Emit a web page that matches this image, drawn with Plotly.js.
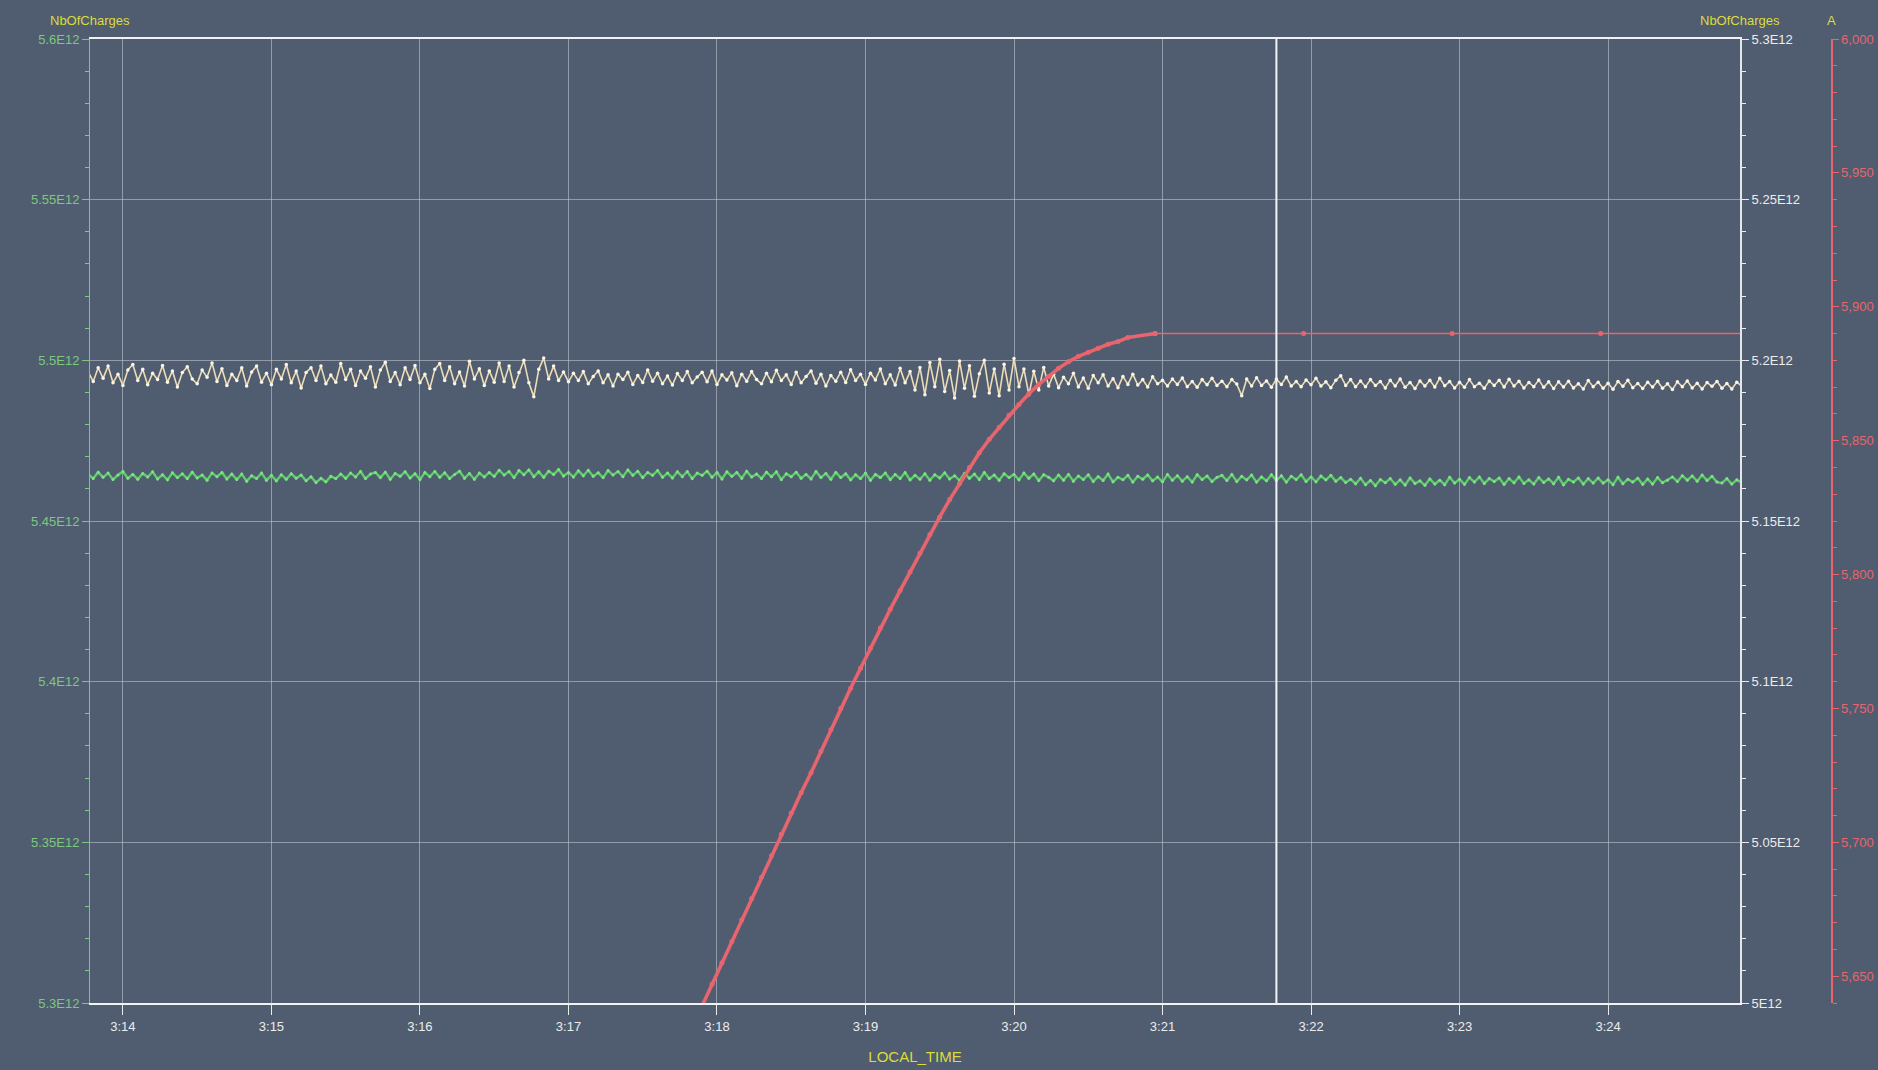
<!DOCTYPE html>
<html><head><meta charset="utf-8">
<script src="https://cdn.plot.ly/plotly-3.0.1.min.js"></script>
<style>html,body{margin:0;padding:0;background:#505d70;}#chart{width:1878px;height:1070px;}</style>
</head><body><div id="chart"></div>
<script>
// ---------- DATA ----------
const DAY = '2024-01-01';
const sampleStart = [3, 13, 46];      // h, m, s of first logged sample
const sampleStepSec = 2;              // logger sampling interval

// NbOfCharges (right axis, in units of 1E12)
const creamE12 = [
5.1964,5.1934,5.1977,5.1944,5.1982,5.1930,5.1957,5.1922,5.1970,5.1987,
5.1937,5.1972,5.1924,5.1960,5.1940,5.1984,5.1932,5.1967,5.1917,5.1962,
5.1980,5.1942,5.1927,5.1970,5.1947,5.1992,5.1934,5.1974,5.1922,5.1957,
5.1937,5.1977,5.1920,5.1964,5.1982,5.1932,5.1960,5.1924,5.1972,5.1942,
5.1987,5.1930,5.1967,5.1914,5.1962,5.1977,5.1937,5.1982,5.1927,5.1954,
5.1932,5.1990,5.1940,5.1972,5.1922,5.1967,5.1944,5.1980,5.1917,5.1970,
5.1994,5.1934,5.1962,5.1924,5.1977,5.1940,5.1984,5.1930,5.1957,5.1912,
5.1972,5.1990,5.1937,5.1980,5.1927,5.1964,5.1920,5.1997,5.1942,5.1974,
5.1922,5.1967,5.1932,5.1992,5.1934,5.1982,5.1917,5.1962,5.2000,5.1930,
5.1887,5.1972,5.2007,5.1942,5.1982,5.1937,5.1964,
5.1933,5.1960,5.1937,5.1965,5.1927,5.1950,5.1967,5.1930,5.1955,5.1920,
5.1957,5.1940,5.1963,5.1925,5.1953,5.1931,5.1970,5.1935,5.1960,5.1927,
5.1951,5.1923,5.1959,5.1937,5.1965,5.1930,5.1948,5.1963,5.1933,5.1967,
5.1925,5.1955,5.1939,5.1961,5.1921,5.1957,5.1935,5.1965,5.1940,5.1927,
5.1960,5.1933,5.1969,5.1937,5.1955,5.1925,5.1963,5.1930,5.1950,5.1967,
5.1929,5.1957,5.1920,5.1953,5.1935,5.1963,5.1931,5.1971,5.1937,5.1957,
5.1925,5.1960,5.1939,5.1973,5.1927,5.1955,5.1923,5.1975,5.1930,5.1965,
5.1908,5.1978,5.1893,5.1993,5.1918,5.2003,5.1903,5.1968,5.1883,5.1998,
5.1913,5.1983,5.1888,5.1958,5.2000,5.1898,5.1973,5.1890,5.1988,5.1908,
5.2006,5.1918,5.1973,5.1893,5.1966,5.1908,5.1978,
5.1920,5.1957,5.1915,5.1947,5.1927,5.1960,5.1917,5.1945,5.1913,5.1953,
5.1930,5.1955,5.1920,5.1943,5.1915,5.1950,5.1925,5.1957,5.1923,5.1940,
5.1917,5.1949,5.1927,
5.1938,5.1920,5.1942,5.1925,5.1945,5.1918,5.1934,5.1916,5.1940,5.1924,
5.1944,5.1922,5.1935,5.1918,5.1940,5.1926,5.1890,5.1942,5.1920,5.1946,
5.1922,5.1936,5.1916,5.1942,5.1925,5.1948,5.1920,5.1934,5.1918,5.1939,
5.1924,5.1944,5.1920,5.1933,5.1915,5.1938,5.1952,5.1922,5.1940,5.1918,
5.1936,5.1918,5.1940,5.1922,5.1934,5.1914,5.1938,5.1920,5.1942,5.1916,
5.1931,5.1912,5.1936,5.1920,5.1938,5.1917,5.1944,5.1921,5.1934,5.1914,
5.1932,5.1916,5.1940,5.1918,5.1929,5.1913,5.1936,5.1922,5.1938,5.1917,
5.1941,5.1920,5.1935,5.1914,5.1931,5.1918,5.1939,5.1916,5.1933,5.1912,
5.1933,5.1917,5.1935,5.1914,5.1927,5.1911,5.1937,5.1918,5.1932,5.1913,
5.1929,5.1910,5.1934,5.1919,5.1938,5.1915,5.1928,5.1912,5.1932,5.1917,
5.1935,5.1913,5.1927,5.1909,5.1933,5.1918,5.1936,5.1914,5.1929,5.1911,
5.1931,5.1919,5.1934,5.1913,5.1928,5.1911,5.1932,5.1920
];

// NbOfCharges (left axis, in units of 1E12)
const greenE12 = [
5.4646,5.4632,5.4652,5.4636,5.4649,5.4629,5.4643,5.4654,5.4633,5.4645,
5.4630,5.4648,5.4637,5.4653,5.4631,5.4644,5.4628,5.4650,5.4635,5.4647,
5.4632,5.4652,5.4634,5.4643,5.4627,5.4649,5.4638,5.4651,5.4631,5.4646,
5.4629,5.4646,5.4624,5.4641,5.4632,5.4649,5.4627,5.4642,5.4625,5.4644,
5.4630,5.4647,5.4633,5.4643,5.4625,5.4638,5.4620,5.4633,5.4622,5.4639,
5.4632,5.4646,5.4633,5.4649,5.4637,5.4654,5.4632,5.4646,5.4651,5.4635,
5.4652,5.4630,5.4648,5.4639,5.4653,5.4634,5.4647,5.4629,5.4651,5.4638,
5.4654,5.4636,5.4650,5.4632,5.4645,5.4655,5.4633,5.4648,5.4630,5.4649,
5.4637,5.4651,5.4639,5.4658,5.4643,5.4654,5.4635,5.4657,5.4644,5.4659,
5.4638,5.4653,5.4636,5.4655,5.4645,5.4660,5.4640,5.4651,5.4637,5.4656,
5.4641,5.4658,5.4639,5.4650,5.4635,5.4657,5.4643,5.4654,5.4638,5.4659,
5.4642,5.4655,5.4635,5.4651,5.4642,5.4657,5.4636,5.4649,5.4634,5.4653,
5.4638,5.4654,5.4632,5.4649,5.4642,5.4655,5.4636,5.4651,5.4631,5.4653,
5.4639,5.4651,5.4633,5.4655,5.4637,5.4646,5.4632,5.4652,5.4638,5.4653,
5.4629,5.4647,5.4638,5.4652,5.4633,5.4645,5.4631,5.4654,5.4635,5.4648,
5.4630,5.4651,5.4635,5.4647,5.4628,5.4644,5.4632,5.4649,5.4627,5.4645,
5.4635,5.4649,5.4629,5.4645,5.4632,5.4651,5.4628,5.4642,5.4630,5.4647,
5.4627,5.4644,5.4634,5.4650,5.4631,5.4641,5.4626,5.4648,5.4633,5.4646,
5.4629,5.4651,5.4632,5.4643,5.4627,5.4647,5.4635,5.4645,5.4628,5.4649,
5.4633,5.4646,5.4626,5.4644,5.4636,5.4625,5.4643,5.4627,5.4645,5.4624,
5.4640,5.4629,5.4644,5.4623,5.4638,5.4626,5.4646,5.4622,5.4636,5.4628,
5.4642,5.4621,5.4639,5.4630,5.4643,5.4625,5.4637,5.4622,5.4645,5.4627,
5.4641,5.4624,5.4638,5.4621,5.4644,5.4629,5.4640,5.4623,5.4636,5.4642,
5.4626,5.4645,5.4623,5.4639,5.4628,5.4643,5.4621,5.4637,5.4625,5.4644,
5.4626,5.4641,5.4621,5.4639,5.4629,5.4644,5.4623,5.4637,5.4622,5.4640,
5.4628,5.4642,5.4624,5.4635,5.4620,
5.4630,5.4616,5.4633,5.4613,5.4626,5.4610,5.4629,5.4619,5.4632,5.4614,
5.4628,5.4612,5.4634,5.4617,5.4625,5.4611,5.4631,5.4615,5.4627,5.4613,
5.4636,5.4618,5.4630,5.4614,5.4635,5.4621,5.4637,5.4617,5.4632,5.4623,
5.4634,5.4614,5.4632,5.4619,5.4637,5.4617,5.4628,5.4615,5.4635,5.4620,
5.4631,5.4616,5.4636,5.4613,5.4630,5.4621,5.4634,5.4615,5.4632,5.4618,
5.4634,5.4618,5.4628,5.4613,5.4636,5.4616,5.4630,5.4621,5.4633,5.4614,
5.4631,5.4615,5.4635,5.4619,5.4627,
5.4637,5.4623,5.4641,5.4627,5.4640,5.4624,5.4643,5.4626,5.4639,5.4621,
5.4618,5.4632,5.4615,5.4628,5.4620
];

// Current "A" (red axis)
const redTimes = [
'03:17:50','03:17:54','03:17:58','03:18:02','03:18:06','03:18:10','03:18:14','03:18:18','03:18:22','03:18:26',
'03:18:30','03:18:34','03:18:38','03:18:42','03:18:46','03:18:50','03:18:54','03:18:58','03:19:02','03:19:06',
'03:19:10','03:19:14','03:19:18','03:19:22','03:19:26','03:19:30','03:19:34','03:19:38','03:19:42','03:19:46',
'03:19:50','03:19:54','03:19:58','03:20:02','03:20:06','03:20:10','03:20:14','03:20:18','03:20:22','03:20:26',
'03:20:30','03:20:34','03:20:38','03:20:42','03:20:46','03:20:57','03:21:57','03:22:57','03:23:57','03:24:57'
];
const redAmps = [
5631,5639,5647,5655,5663,5671,5679,5687,5695,5703,
5711,5718.5,5726,5734,5742,5750,5757.5,5765,5772.5,5780,
5787,5794,5801,5808,5815,5821.5,5828,5834,5840,5845.5,
5850.5,5855,5859.5,5863.5,5867.5,5871,5874,5877,5879.5,5881.5,
5883,5884.5,5886,5887,5888.5,5890,5890,5890,5890,5890
];
const redPlateauStart = '03:20:57';   // ramp ends, set-point reached

const leftTickVals  = [5.3, 5.35, 5.4, 5.45, 5.5, 5.55, 5.6];
const leftTickText  = ['5.3E12','5.35E12','5.4E12','5.45E12','5.5E12','5.55E12','5.6E12'];
const rightTickVals = [5.0, 5.05, 5.1, 5.15, 5.2, 5.25, 5.3];
const rightTickText = ['5E12','5.05E12','5.1E12','5.15E12','5.2E12','5.25E12','5.3E12'];
const cursorTime = '03:21:46';
const xRange = ['03:13:46.7', '03:24:53.3'];

// ---------- STYLE ----------
const BG = '#505d70';
const GRID = 'rgba(200,206,215,0.55)';
const WHITE = '#ececec';
const GREEN_AX = '#7cc87c';
const RED = '#e8646e';
const YELLOW = '#dcdc3a';
const FONT = '"Liberation Sans Narrow", "Liberation Sans", Arial, sans-serif';
const FS = 13;

const dt = hms => DAY + ' ' + hms;
const t0 = Date.UTC(2024, 0, 1, sampleStart[0], sampleStart[1], sampleStart[2]);
const sampleX = n => Array.from({length: n}, (_, i) => t0 + i * sampleStepSec * 1000);

const split = redTimes.indexOf(redPlateauStart);
const redX = redTimes.map(dt);

const traces = [
  {x: sampleX(greenE12.length), y: greenE12, yaxis: 'y', type: 'scatter', mode: 'lines+markers',
   line: {color: '#5fcd6a', width: 2.4}, marker: {color: '#82e08c', size: 3}, hoverinfo: 'skip'},
  {x: sampleX(creamE12.length), y: creamE12, yaxis: 'y2', type: 'scatter', mode: 'lines+markers',
   line: {color: '#ecdcb8', width: 1.6}, marker: {color: '#fbf6ea', size: 3.5}, hoverinfo: 'skip'},
  {x: redX.slice(0, split + 1), y: redAmps.slice(0, split + 1), yaxis: 'y3', type: 'scatter', mode: 'lines+markers',
   line: {color: RED, width: 3.6}, marker: {color: RED, size: 5}, hoverinfo: 'skip'},
  {x: redX.slice(split), y: redAmps.slice(split), yaxis: 'y3', type: 'scatter', mode: 'lines+markers',
   line: {color: RED, width: 1.6}, marker: {color: RED, size: 5}, hoverinfo: 'skip'}
];

const plotW = 1878 - 90 - 47;
const layout = {
  width: 1878, height: 1070,
  paper_bgcolor: BG, plot_bgcolor: BG,
  margin: {l: 90, r: 47, t: 39, b: 67},
  showlegend: false,
  font: {family: FONT, size: FS, color: WHITE},
  xaxis: {
    type: 'date', domain: [0, 1650 / plotW], range: xRange.map(dt),
    tick0: dt('03:14:00'), dtick: 60000, tickformat: '%-H:%M',
    ticks: 'outside', ticklen: 10, tickcolor: WHITE, tickwidth: 1,
    showgrid: true, gridcolor: GRID, gridwidth: 1,
    showline: true, linecolor: '#f2f2f2', linewidth: 2, mirror: true, zeroline: false,
    tickfont: {color: WHITE, size: FS},
    title: {text: 'LOCAL_TIME', font: {color: YELLOW, size: 15}, standoff: 19}
  },
  yaxis: {
    range: [5.3, 5.6], tickmode: 'array', tickvals: leftTickVals, ticktext: leftTickText,
    ticks: 'outside', ticklen: 7, tickcolor: GREEN_AX,
    showline: true, linecolor: GREEN_AX, linewidth: 1,
    showgrid: true, gridcolor: GRID, zeroline: false,
    tickfont: {color: GREEN_AX, size: FS},
    minor: {tickmode: 'linear', tick0: 5.3, dtick: 0.01, ticks: 'outside', ticklen: 4, tickcolor: GREEN_AX, showgrid: false}
  },
  yaxis2: {
    overlaying: 'y', side: 'right', anchor: 'x',
    range: [5.0, 5.3], tickmode: 'array', tickvals: rightTickVals, ticktext: rightTickText,
    ticks: 'outside', ticklen: 7, tickcolor: WHITE,
    showline: true, linecolor: '#e6e6e6', linewidth: 2,
    showgrid: false, zeroline: false,
    tickfont: {color: WHITE, size: FS},
    minor: {tickmode: 'linear', tick0: 5.0, dtick: 0.01, ticks: 'outside', ticklen: 4, tickcolor: WHITE, showgrid: false}
  },
  yaxis3: {
    overlaying: 'y', side: 'right', anchor: 'free', position: 1,
    range: [5640, 6000], tickmode: 'linear', tick0: 5650, dtick: 50, tickformat: ',d',
    ticks: 'outside', ticklen: 6, tickcolor: RED,
    showline: true, linecolor: RED, linewidth: 1.5,
    showgrid: false, zeroline: false,
    tickfont: {color: RED, size: FS},
    minor: {tickmode: 'linear', tick0: 5650, dtick: 10, ticks: 'outside', ticklen: 4, tickcolor: RED, showgrid: false}
  },
  shapes: [
    {type: 'line', xref: 'x', yref: 'paper', x0: dt(cursorTime), x1: dt(cursorTime), y0: 0, y1: 1,
     line: {color: '#f4f4f4', width: 2}}
  ],
  annotations: [
    {text: 'NbOfCharges', xref: 'paper', yref: 'paper', x: 0, y: 1, yshift: 19, xanchor: 'center', yanchor: 'middle',
     showarrow: false, font: {color: YELLOW, size: FS}},
    {text: 'NbOfCharges', xref: 'paper', yref: 'paper', x: 1650 / plotW, y: 1, yshift: 19, xanchor: 'center', yanchor: 'middle',
     showarrow: false, font: {color: YELLOW, size: FS}},
    {text: 'A', xref: 'paper', yref: 'paper', x: 1, y: 1, yshift: 19, xanchor: 'center', yanchor: 'middle',
     showarrow: false, font: {color: YELLOW, size: FS}}
  ]
};

Plotly.newPlot('chart', traces, layout, {staticPlot: true, displayModeBar: false});
</script>
</body></html>
